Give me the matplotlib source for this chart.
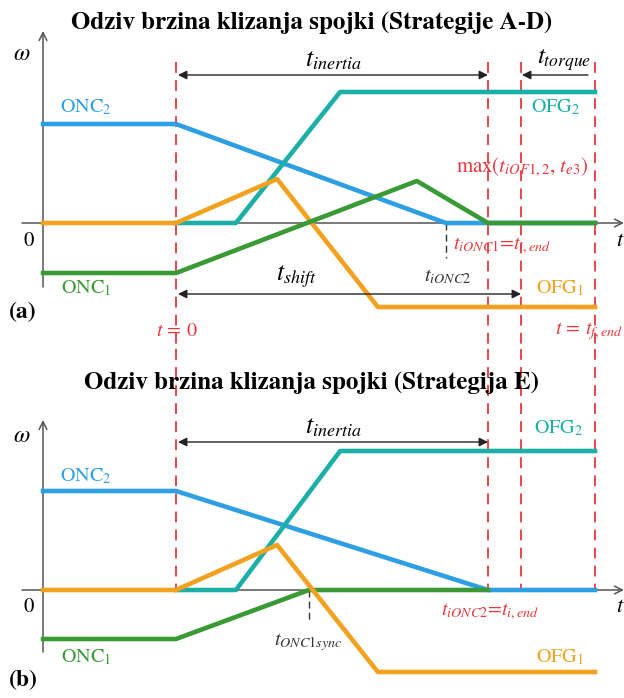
import matplotlib
matplotlib.use("Agg")
import matplotlib.pyplot as plt

plt.rcParams['font.family'] = ['STIXGeneral', 'DejaVu Serif']
plt.rcParams['mathtext.fontset'] = 'stix'

# ---------------- data (time units: t_i,end = 10; omega arbitrary) ----------------
# Panel (a) : Strategije A-D
a_onc2_t = [-4.26, 0, 8.65, 13.43]
a_onc2_w = [9.9, 9.9, 0, 0]
a_onc1_t = [-4.26, 0, 7.72, 10, 13.43]
a_onc1_w = [-5.0, -5.0, 4.2, 0, 0]
a_ofg1_t = [-4.26, 0, 3.24, 6.47, 13.43]
a_ofg1_w = [0, 0, 4.4, -8.4, -8.4]
a_ofg2_t = [0, 1.92, 5.26, 13.43]
a_ofg2_w = [0, 0, 13.1, 13.1]

# Panel (b) : Strategija E
b_onc2_t = [-4.26, 0, 10, 13.43]
b_onc2_w = [9.9, 9.9, 0, 0]
b_onc1_t = [-4.26, 0, 4.26, 10]
b_onc1_w = [-4.9, -4.9, 0, 0]
b_ofg1_t = [-4.26, 0, 3.24, 6.47, 13.43]
b_ofg1_w = [0, 0, 4.5, -8.2, -8.2]
b_ofg2_t = [0, 1.92, 5.26, 13.43]
b_ofg2_w = [0, 0, 13.9, 13.9]

# event times
t_events = [0, 10, 11.06, 13.43]
t_ionc1_a = 8.65
t_onc1sync_b = 4.26

C_BLUE = '#2f9fe3'
C_GREEN = '#3a9a35'
C_ORANGE = '#f2a21f'
C_TEAL = '#1bafa8'
C_RED = '#e8383d'
C_AX = '#555555'

# ---------------- figure ----------------
W, H = 624, 698
fig = plt.figure(figsize=(W / 100, H / 100), dpi=100)
PX = 31.2      # px per time unit
X0 = 176       # px of t = 0
PY = 10.0      # px per omega unit

ax_a = fig.add_axes([0, 0.5, 1, 0.5])
ax_b = fig.add_axes([0, 0.0, 1, 0.5])
Z_A, Z_B = 223, 590  # px of zero line
ax_a.set_xlim(-X0 / PX, (W - X0) / PX)
ax_b.set_xlim(-X0 / PX, (W - X0) / PX)
ax_a.set_ylim((Z_A - 349) / PY, Z_A / PY)
ax_b.set_ylim((Z_B - 698) / PY, (Z_B - 349) / PY)
for ax in (ax_a, ax_b):
    ax.axis('off')


def tx(px):
    return (px - X0) / PX


def wy(py, zero):
    return (zero - py) / PY


def axes_frame(ax, zero, ytop, ybot):
    # x axis
    ax.annotate('', xy=(tx(624), 0), xytext=(tx(22), 0),
                arrowprops=dict(arrowstyle='->', color=C_AX, lw=1.1,
                                mutation_scale=14, shrinkA=0, shrinkB=0),
                annotation_clip=False)
    # y axis
    ax.annotate('', xy=(tx(43), wy(ytop, zero)), xytext=(tx(43), wy(ybot, zero)),
                arrowprops=dict(arrowstyle='->', color=C_AX, lw=1.1,
                                mutation_scale=14, shrinkA=0, shrinkB=0),
                annotation_clip=False)


def darrow(ax, x1, x2, y, zero, style='<|-|>'):
    ax.annotate('', xy=(tx(x2), wy(y, zero)), xytext=(tx(x1), wy(y, zero)),
                arrowprops=dict(arrowstyle=style, color='#222222', lw=1.0,
                                mutation_scale=13, shrinkA=0, shrinkB=0),
                annotation_clip=False)


def txt(ax, x, y, zero, s, **kw):
    ax.text(tx(x), wy(y, zero), s, ha=kw.pop('ha', 'center'),
            va=kw.pop('va', 'center'), clip_on=False, **kw)


LW = 3.3

# ---------------- panel (a) ----------------
axes_frame(ax_a, Z_A, 31, 287)
for te in t_events:
    ax_a.plot([te, te], [wy(62, Z_A), wy(349, Z_A)], color=C_RED, lw=1.3,
              ls=(0, (6, 4)), clip_on=False, zorder=1)
ax_a.plot([t_ionc1_a, t_ionc1_a], [0, wy(258, Z_A)], color='#333333', lw=1.0,
          ls=(0, (5, 3)), zorder=1)
ax_a.plot(a_onc2_t, a_onc2_w, color=C_BLUE, lw=LW, zorder=3)
ax_a.plot(a_ofg2_t, a_ofg2_w, color=C_TEAL, lw=LW, zorder=3)
ax_a.plot(a_ofg1_t, a_ofg1_w, color=C_ORANGE, lw=LW, zorder=3)
ax_a.plot(a_onc1_t, a_onc1_w, color=C_GREEN, lw=LW, zorder=4)

fig.text(0.5, 1 - 23 / H, 'Odziv brzina klizanja spojki (Strategije A-D)',
         ha='center', va='center', fontsize=18, fontweight='bold')
txt(ax_a, 22, 54, Z_A, r'$\omega$', fontsize=17)
txt(ax_a, 29, 241, Z_A, '0', fontsize=15)
txt(ax_a, 616, 241, Z_A, r'$t$', fontsize=16, ha='left')
darrow(ax_a, 178, 488, 75, Z_A)
darrow(ax_a, 588, 522, 75, Z_A, style='-|>')
txt(ax_a, 333, 60, Z_A, r'$t_{inertia}$', fontsize=18.5)
txt(ax_a, 564, 60, Z_A, r'$t_{torque}$', fontsize=18)
txt(ax_a, 86, 107, Z_A, r'ONC$_2$', fontsize=14.5, color=C_BLUE)
txt(ax_a, 556, 107, Z_A, r'OFG$_2$', fontsize=14.5, color=C_TEAL)
txt(ax_a, 522, 167, Z_A, r'max($t_{iOF1,2}$, $t_{e3}$)', fontsize=15, color=C_RED)
txt(ax_a, 502, 246, Z_A, r'$t_{iONC1}$=$t_{i,end}$', fontsize=14.5, color=C_RED)
txt(ax_a, 448, 277, Z_A, r'$t_{iONC2}$', fontsize=14.5, color='#333333')
txt(ax_a, 296, 277, Z_A, r'$t_{shift}$', fontsize=18.5)
darrow(ax_a, 178, 521, 294, Z_A)
txt(ax_a, 86, 288, Z_A, r'ONC$_1$', fontsize=14.5, color=C_GREEN)
txt(ax_a, 560, 288, Z_A, r'OFG$_1$', fontsize=14.5, color=C_ORANGE)
txt(ax_a, 23, 313, Z_A, '(a)', fontsize=17, fontweight='bold')
txt(ax_a, 177, 331, Z_A, r'$t\,=\,0$', fontsize=14.5, color=C_RED)
txt(ax_a, 623, 331, Z_A, r'$t\,=\,t_{f,end}$', fontsize=14.5, color=C_RED, ha='right')

# ---------------- panel (b) ----------------
axes_frame(ax_b, Z_B, 420, 652)
for te in t_events:
    ax_b.plot([te, te], [wy(349, Z_B), 0], color=C_RED, lw=1.3,
              ls=(0, (6, 4)), clip_on=False, zorder=1)
ax_b.plot([t_onc1sync_b, t_onc1sync_b], [0, wy(622, Z_B)], color='#333333', lw=1.0,
          ls=(0, (5, 3)), zorder=1)
ax_b.plot(b_onc2_t, b_onc2_w, color=C_BLUE, lw=LW, zorder=3)
ax_b.plot(b_ofg2_t, b_ofg2_w, color=C_TEAL, lw=LW, zorder=3)
ax_b.plot(b_onc1_t, b_onc1_w, color=C_GREEN, lw=LW, zorder=3)
ax_b.plot(b_ofg1_t, b_ofg1_w, color=C_ORANGE, lw=LW, zorder=4)

fig.text(0.5, 1 - 383 / H, 'Odziv brzina klizanja spojki (Strategija E)',
         ha='center', va='center', fontsize=18, fontweight='bold')
txt(ax_b, 22, 436, Z_B, r'$\omega$', fontsize=17)
txt(ax_b, 29, 607, Z_B, '0', fontsize=15)
txt(ax_b, 616, 607, Z_B, r'$t$', fontsize=16, ha='left')
darrow(ax_b, 178, 488, 442, Z_B)
txt(ax_b, 333, 427, Z_B, r'$t_{inertia}$', fontsize=18.5)
txt(ax_b, 559, 428, Z_B, r'OFG$_2$', fontsize=14.5, color=C_TEAL)
txt(ax_b, 86, 476, Z_B, r'ONC$_2$', fontsize=14.5, color=C_BLUE)
txt(ax_b, 490, 612, Z_B, r'$t_{iONC2}$=$t_{i,end}$', fontsize=14.5, color=C_RED)
txt(ax_b, 308, 642, Z_B, r'$t_{ONC1sync}$', fontsize=14.5, color='#333333')
txt(ax_b, 86, 657, Z_B, r'ONC$_1$', fontsize=14.5, color=C_GREEN)
txt(ax_b, 560, 657, Z_B, r'OFG$_1$', fontsize=14.5, color=C_ORANGE)
txt(ax_b, 23, 681, Z_B, '(b)', fontsize=17, fontweight='bold')

fig.savefig('out.png', dpi=100, facecolor='white')
